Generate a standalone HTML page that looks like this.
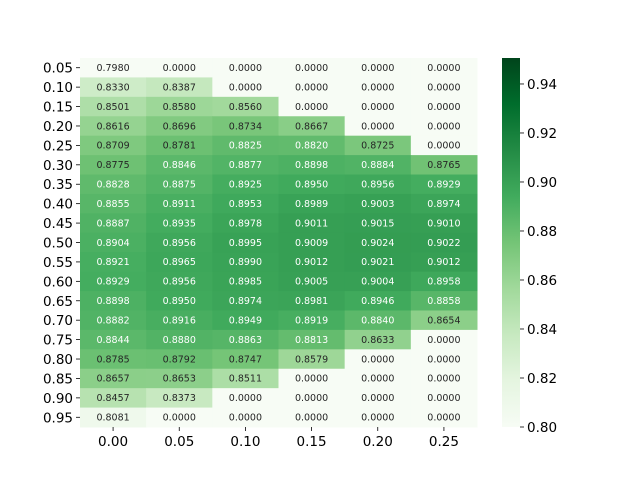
<!DOCTYPE html>
<html><head><meta charset="utf-8"><style>
body{margin:0;background:#fff;font-family:"DejaVu Sans","Liberation Sans",sans-serif}
svg{display:block}
</style></head><body>
<svg id="chart" width="640" height="480" xmlns="http://www.w3.org/2000/svg" font-family="DejaVu Sans, Liberation Sans, sans-serif"></svg>
<script>
const xLabels=["0.00","0.05","0.10","0.15","0.20","0.25"];
const yLabels=["0.05","0.10","0.15","0.20","0.25","0.30","0.35","0.40","0.45","0.50","0.55","0.60","0.65","0.70","0.75","0.80","0.85","0.90","0.95"];
const values=[
[0.7980,0,0,0,0,0],
[0.8330,0.8387,0,0,0,0],
[0.8501,0.8580,0.8560,0,0,0],
[0.8616,0.8696,0.8734,0.8667,0,0],
[0.8709,0.8781,0.8825,0.8820,0.8725,0],
[0.8775,0.8846,0.8877,0.8898,0.8884,0.8765],
[0.8828,0.8875,0.8925,0.8950,0.8956,0.8929],
[0.8855,0.8911,0.8953,0.8989,0.9003,0.8974],
[0.8887,0.8935,0.8978,0.9011,0.9015,0.9010],
[0.8904,0.8956,0.8995,0.9009,0.9024,0.9022],
[0.8921,0.8965,0.8990,0.9012,0.9021,0.9012],
[0.8929,0.8956,0.8985,0.9005,0.9004,0.8958],
[0.8898,0.8950,0.8974,0.8981,0.8946,0.8858],
[0.8882,0.8916,0.8949,0.8919,0.8840,0.8654],
[0.8844,0.8880,0.8863,0.8813,0.8633,0],
[0.8785,0.8792,0.8747,0.8579,0,0],
[0.8657,0.8653,0.8511,0,0,0],
[0.8457,0.8373,0,0,0,0],
[0.8081,0,0,0,0,0]];
const cbTicks=[0.80,0.82,0.84,0.86,0.88,0.90,0.92,0.94];
const vmin=0.80,vmax=0.9506;
const L=80,R=477,T=58,B=427;
const cw=(R-L)/xLabels.length, ch=(B-T)/yLabels.length;
const stops=["#f7fcf5","#e5f5e0","#c7e9c0","#a1d99b","#74c476","#41ab5d","#238b45","#006d2c","#00441b"];
function hex(h){return [1,3,5].map(i=>parseInt(h.substr(i,2),16));}
function cmap(v){let t=Math.max(0,Math.min(1,(v-vmin)/(vmax-vmin)))*(stops.length-1);
 let i=Math.min(Math.floor(t),stops.length-2),f=t-i,a=hex(stops[i]),b=hex(stops[i+1]);
 return "rgb("+a.map((c,k)=>Math.round(c+(b[k]-c)*f)).join(",")+")";}
const svg=document.getElementById('chart');const NS="http://www.w3.org/2000/svg";
function el(tag,attrs,parent){const e=document.createElementNS(NS,tag);for(const k in attrs)e.setAttribute(k,attrs[k]);(parent||svg).appendChild(e);return e;}
function xs(j){return L+j*cw;} function ys(i){return T+i*ch;}
function cy(v){return B-(v-vmin)/(vmax-vmin)*(B-T);}
values.forEach((row,i)=>row.forEach((v,j)=>{
 const r=el('rect',{x:xs(j),y:ys(i),width:cw+0.5,height:ch+0.5,fill:cmap(v)});
 
 
 const t=el('text',{x:xs(j)+cw/2,y:ys(i)+ch/2+3.3,'text-anchor':'middle','font-size':'9.5',fill:v>=0.88?'#fff':'#262626'});
 t.textContent=v.toFixed(4);
 
 
}));
yLabels.forEach((l,i)=>{const y=ys(i)+ch/2;
 el('line',{x1:L-4,x2:L,y1:y,y2:y,stroke:'#000','stroke-width':0.8});
 const t=el('text',{x:L-7,y:y+5,'text-anchor':'end','font-size':'13.5',fill:'#000'});t.textContent=l;
 
 });
xLabels.forEach((l,j)=>{const x=xs(j)+cw/2;
 el('line',{x1:x,x2:x,y1:B,y2:B+4,stroke:'#000','stroke-width':0.8});
 const t=el('text',{x:x,y:B+19,'text-anchor':'middle','font-size':'13.5',fill:'#000'});t.textContent=l;
 
 });
const defs=el('defs',{});const g=el('linearGradient',{id:'cg',x1:0,y1:1,x2:0,y2:0},defs);
stops.forEach((s,k)=>el('stop',{offset:k/(stops.length-1),'stop-color':s},g));
const cb=el('rect',{x:502,y:T,width:18,height:B-T,fill:'url(#cg)'});


cbTicks.forEach(v=>{const y=cy(v);
 el('line',{x1:520,x2:524,y1:y,y2:y,stroke:'#000','stroke-width':0.8});
 const t=el('text',{x:527,y:y+5,'font-size':'13.5',fill:'#000'});t.textContent=v.toFixed(2);
 
 });
</script>
</body></html>
